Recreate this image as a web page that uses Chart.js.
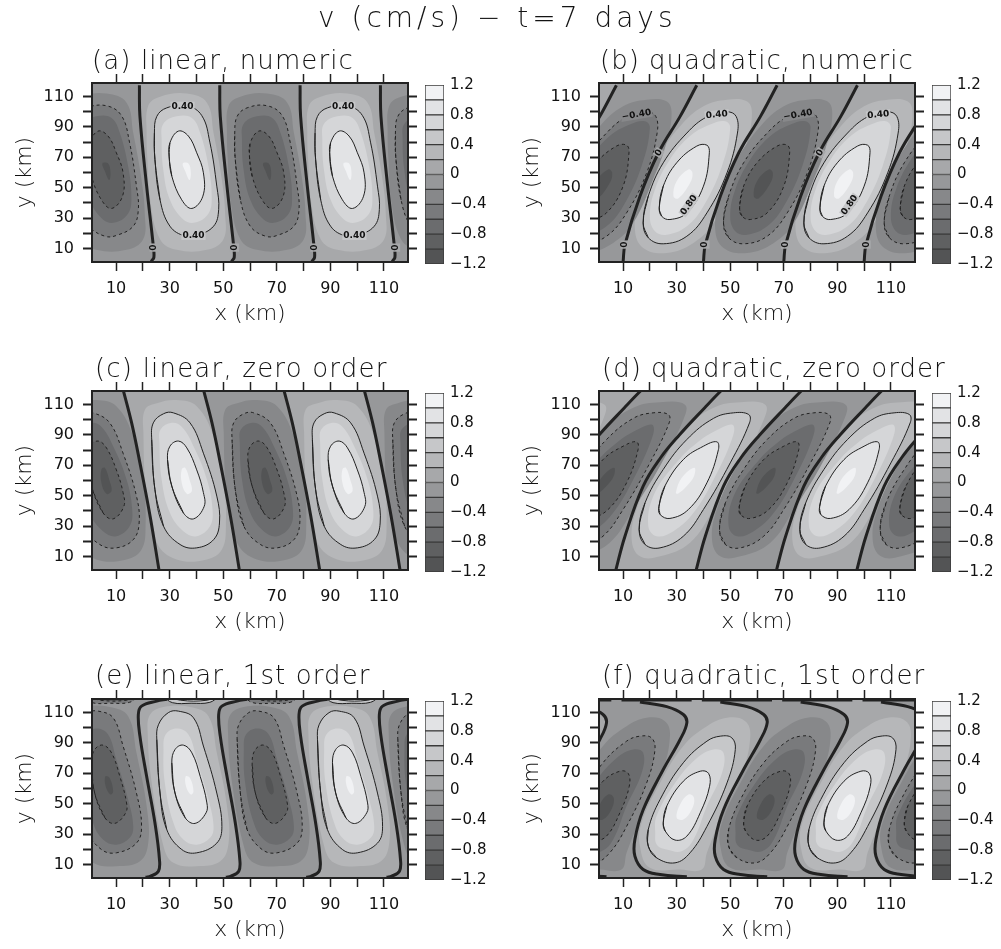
<!DOCTYPE html>
<html>
<head>
<meta charset="utf-8">
<script src="https://cdn.jsdelivr.net/npm/chart.js@4/dist/chart.umd.min.js"></script>
<style>
  body { margin: 0; background: #fff; }
  #page { position: relative; width: 1001px; height: 949px; overflow: hidden; }
  canvas { position: absolute; }
  .title { position: absolute; font-family: "DejaVu Sans", sans-serif; font-weight: 200; color: #111; line-height: 1; white-space: pre; opacity: 0.99; will-change: opacity; }
</style>
</head>
<body>
<div id="page"></div>
<script>
// tick values (km) and colour bar levels
const axisTicks = [10, 20, 30, 40, 50, 60, 70, 80, 90, 100, 110];
const axisLabels = [10, 30, 50, 70, 90, 110];
const levelEdges = [-1.2, -1, -0.8, -0.6, -0.4, -0.2, 0, 0.2, 0.4, 0.6, 0.8, 1, 1.2];
const levelLabels = [-1.2, -0.8, -0.4, 0, 0.4, 0.8, 1.2];
const bandColors = ['#535455', '#5f6061', '#6b6c6e', '#797a7c', '#87888a', '#97989a', '#a7a8aa', '#b6b7b9', '#c6c7c9', '#d5d6d8', '#e2e3e5', '#f1f2f4'];

// (a) linear, numeric: contours of one lobe at |v| = 0.2, 0.4, 0.6, 0.8, 1.0
const a_zero = [[22.8,-3],[23.2,1.5],[24.1,4],[23.9,11.4],[21.4,51],[18.9,97],[18.7,117.5]];
const a_r02 = [[21.7,68.6],[21.4,86],[22,104],[26.4,110],[36.4,112],[43.9,106],[46.4,86],[49.5,55],[50.7,33],[50.1,16],[43.9,9],[32.6,9],[26.4,16],[22.7,42]];
const a_r04 = [[24.5,68.6],[24.3,86],[25.2,97],[28.9,102.6],[36.4,104],[42,97.5],[45,80],[47.6,51],[48.3,35.6],[46.4,24.6],[40.1,18.5],[35.8,18],[30.1,24.6],[26.4,42]];
const a_r06 = [[27.6,62],[27,82],[27.6,92],[32.6,97],[38.3,96],[41.4,86],[44.5,64],[45.7,44],[44.5,33],[39.5,27],[35.1,29],[30.1,42]];
const a_r08 = [[29.8,70.8],[30.1,79.6],[33.3,87.3],[37,84],[40.1,73],[42.6,59.8],[42.4,44.4],[38.3,36.3],[34.5,42],[30.8,57.6]];
const a_r10 = [[34.9,66],[37,66],[37.9,60],[37.4,55],[35.8,61]];
const a_labels = [[34.8,103.7,'0.40',0],[94.8,103.7,'0.40',0],[38.9,18.5,'0.40',0],[99,18.5,'0.40',0],[24.2,10.5,'0',-90],[54.2,10.5,'0',-90],[84.2,10.5,'0',-90],[114.4,10.5,'0',-90]];

// (b) quadratic, numeric
const b_zero = [[10,1],[10.7,12.5],[16.3,44.4],[23.2,73],[31.3,97],[37.5,117.5]];
const b_r02 = [[14.4,22.4],[16.3,44.4],[22.5,68.6],[31.3,90.5],[40,103.7],[48.8,108],[56.2,107],[58.1,99.3],[56.2,79.6],[51.2,55.4],[43.8,26.8],[36.3,13.6],[26.3,7],[17.5,10.3]];
const b_r04 = [[17.5,26.8],[19.4,44.4],[25,66.4],[33.8,86],[41.3,96.7],[48.8,100],[52.2,97],[52.7,86],[48.8,59.8],[41.3,33.4],[33.8,18],[25,13],[19.4,17]];
const b_r06 = [[20,31],[21.9,48.8],[27.5,68.6],[35,84],[42.5,91.6],[48.1,93.8],[50,89.5],[46.9,64.2],[40,37.8],[33.8,24.6],[26.3,19],[21.9,21.3]];
const b_r08 = [[23.5,36.7],[25,51],[30,66.4],[37.5,77.4],[41.3,78],[42.2,73],[40,51],[33.8,33.4],[27.5,29],[24.4,31.2]];
const b_r10 = [[28.8,44.4],[30,54.3],[34.4,62],[35.9,59.8],[35,53],[30.6,42.9]];
const b_labels = [[15,98,'\u22120.40',-10],[75.3,98,'\u22120.40',-10],[45,98,'0.40',-5],[105.3,98,'0.40',-5],[34.6,38.5,'0.80',-55],[94.6,38.5,'0.80',-55],[10.7,12.5,'0',-90],[40.6,12.5,'0',-90],[70.6,12.5,'0',-90],[100.8,12.5,'0',-90],[23.3,73,'0',-60],[83.5,73,'0',-60]];

// (c) linear, zero order
const c_zero = [[26.2,-1],[22.7,36.5],[18.9,71.6],[15.8,98],[12.3,122]];
const c_r02 = [[21.4,49.7],[20.2,91.4],[20.8,106.8],[25.2,111],[32.6,113],[40.1,109],[46.4,89],[50.1,60.7],[51,30],[49.5,14.5],[43.9,8],[32.6,8],[25.2,19]];
const c_r04 = [[24.5,54],[23.3,87],[23.9,98],[27.7,104],[31.4,104.6],[37.6,98],[42.6,78],[47.6,49.7],[48.6,32],[46.4,21],[40.1,15.6],[33.9,17.8],[27.7,29.9]];
const c_r06 = [[27,60.7],[26.2,84.8],[26.6,93.6],[30.8,98],[34.5,95.4],[38.9,82.6],[43.9,60.7],[46,41],[45.1,30],[40.1,23.3],[35.1,26.6],[30.1,38.7]];
const c_r08 = [[30.8,56.3],[29.2,73.8],[30.1,82.6],[33.3,86],[36.4,81.5],[40.1,67],[42.6,52],[42.9,43],[38.9,34.7],[35.1,38.7]];
const c_r10 = [[34.5,67.3],[35.8,68.4],[37.4,60.7],[38.3,53],[36.4,51.2],[34.5,58.5]];

// (d) quadratic, zero order
const d_zero = [[7,-1],[10.7,23.3],[17.5,56.3],[24,75],[31,90],[40.5,108],[46.5,119],[48.5,122]];
const d_r02 = [[13.2,21],[15,40.9],[22.5,69.5],[32.5,93.6],[43.8,108],[53.8,111.6],[63.1,110],[62.5,100],[53.8,69.5],[43.8,40.9],[35,19],[23.8,10],[16.3,10]];
const d_r04 = [[16,27.7],[18.2,45.3],[25,67.3],[33.8,87],[43.8,101],[51.2,104.6],[56.9,103.5],[57.2,98],[50,71.6],[40,40.9],[32.5,23.3],[23.8,15.6],[18.2,17.8]];
const d_r06 = [[19.4,30],[21.3,49.7],[28.8,69.5],[37.5,84.8],[47.5,95.4],[51.2,96.3],[50.6,87],[43.8,60.7],[36.3,38.7],[28.8,26.6],[22.5,23.3]];
const d_r08 = [[23.4,43],[25.6,56.3],[32.5,73.8],[40,82.6],[45,85.5],[45.6,80.4],[41.3,58.5],[34.4,40.9],[27.5,35],[23.8,37.6]];
const d_r10 = [[29.7,51.9],[31.9,61.8],[36.6,68.4],[36.5,62.9],[33.8,56.3],[30.6,51.4]];

// (e) linear, 1st order
const e_zero = [[21,1.5],[22.9,2.2],[25.8,5.5],[26.2,13],[24.5,37.4],[21.4,68],[18.9,94.5],[18.3,108.8],[19.5,114.3],[25.2,117.6],[29,118.8]];
const e_r02 = [[23.3,63.7],[21.8,96.7],[22.7,108.8],[27.7,113.8],[37.6,113.8],[44.5,107.7],[47.6,83.5],[51.4,48.4],[52,24],[48.9,12],[40.1,8.8],[31.4,11],[27.7,22]];
const e_r04 = [[26.4,57],[25.2,92.3],[25.8,102],[29.5,110],[33.3,111],[38.9,106.6],[42.6,88],[47.6,57],[49.5,35],[47.6,24],[40.1,17.6],[34.5,19.8],[28.9,33]];
const e_r06 = [[28.2,63.7],[27.7,85.7],[28.5,95.6],[32.6,99.6],[37,95.6],[40.1,79],[44.5,52.7],[46.4,35],[45.1,27.5],[40.1,23],[35.1,26.4],[31.4,37.4]];
const e_r08 = [[32,57],[30.8,77],[32,85.7],[35.1,88.6],[38.3,83.5],[41.4,68],[43.9,50.5],[43.6,44],[39.5,37],[35.8,40.7]];
const e_r10 = [[36,68],[37.6,67],[38.9,58.2],[37.9,56],[36.1,61.5]];
const e_cap04 = [[27.5,121],[31,116.6],[38,116.2],[45,116.8],[48.5,121]];
const e_cap08 = [[30,121],[34,118.2],[44,118.2],[47,121]];

// (f) quadratic, 1st order
const f_zero = [[33.8,1.8],[23.8,3.3],[17.5,6.6],[14.4,15.4],[14.4,26.4],[17.5,46],[25,72.5],[31.3,92.3],[33.8,103.3],[32.5,108.8],[26.3,114],[16.3,117]];
const f_r02 = [[16.3,22],[16.9,37.4],[23.8,63.7],[32.5,88],[41.3,101],[48.8,106.6],[55.6,104.4],[57.5,94.5],[54.4,70],[46.3,39.6],[41.3,17.6],[39.4,6.6],[31.3,6.6],[20,7.7]];
const f_r04 = [[19.4,22],[19.4,33],[23.8,52.7],[32.5,77],[41.3,91.2],[46.3,94.5],[50.6,93.4],[51.9,85.7],[48.8,63.7],[41.3,35],[35,17.6],[29.4,11],[22.5,14.3]];
const f_r06 = [[22,30.8],[22.5,41.8],[29.4,63.7],[37.5,80],[43.8,85.7],[47.5,83.5],[46.9,70],[41.3,48.4],[36.3,26.4],[31.9,18.7],[26.3,19.8],[22.6,23]];
const f_r08 = [[25,37.4],[26.3,48.4],[32.5,64.8],[38.8,71.4],[41.9,70],[42.3,61.5],[38.8,44],[33.8,28.6],[29.4,26],[25.7,32]];
const f_r10 = [[30,40.7],[31.3,49.5],[34.4,56],[36.5,53.8],[35.6,46],[32.5,39.6]];
const f_topDash = [[9.4,118.4],[35.6,118.4]];

// lobe and zero line repeats along x (km)
const shiftsStraight = { zero: [0, 30, 60, 90], pos: [0, 60], neg: [-30, 30, 90] };
const shiftsSlanted = { zero: [-30, 0, 30, 60, 90], pos: [-60, 0, 60], neg: [-30, 30, 90] };

const panels = [
  { title: '(a) linear, numeric', left: 0, top: 83, titleX: 92, titleTop: 47, spacing: 1.1, zero: a_zero, rings: [a_r02, a_r04, a_r06, a_r08, a_r10], shifts: shiftsStraight, labels: a_labels },
  { title: '(b) quadratic, numeric', left: 507, top: 83, titleX: 600, titleTop: 47, spacing: 1, zero: b_zero, rings: [b_r02, b_r04, b_r06, b_r08, b_r10], shifts: shiftsSlanted, labels: b_labels },
  { title: '(c) linear, zero order', left: 0, top: 391, titleX: 95, titleTop: 355, spacing: 1.2, zero: c_zero, rings: [c_r02, c_r04, c_r06, c_r08, c_r10], shifts: shiftsStraight },
  { title: '(d) quadratic, zero order', left: 507, top: 391, titleX: 602, titleTop: 355, spacing: 1, zero: d_zero, rings: [d_r02, d_r04, d_r06, d_r08, d_r10], shifts: shiftsSlanted },
  { title: '(e) linear, 1st order', left: 0, top: 699, titleX: 95, titleTop: 662, spacing: 1.1, zero: e_zero, rings: [e_r02, e_r04, e_r06, e_r08, e_r10], shifts: shiftsStraight, caps: [[e_cap04, 1], [e_cap08, 3]] },
  { title: '(f) quadratic, 1st order', left: 507, top: 699, titleX: 602, titleTop: 662, spacing: 1.15, zero: f_zero, rings: [f_r02, f_r04, f_r06, f_r08, f_r10], shifts: shiftsSlanted, edge: f_topDash }
];

const page = document.getElementById('page');
const ink = '#222';
const textInk = '#111';
const fontFamily = '"DejaVu Sans", sans-serif';

function addTitle(text, x, top, size, spacing) {
  const el = document.createElement('div');
  el.className = 'title';
  el.textContent = text;
  el.style.left = x + 'px';
  el.style.top = top + 'px';
  el.style.fontSize = size + 'px';
  el.style.letterSpacing = spacing + 'px';
  page.appendChild(el);
}

function addCanvas(left, top, width, height) {
  const cv = document.createElement('canvas');
  cv.width = width;
  cv.height = height;
  cv.style.left = left + 'px';
  cv.style.top = top + 'px';
  page.appendChild(cv);
  return cv;
}

const toPoints = (ring, dx) => ring.map(([x, y]) => ({ x: x + dx, y }));
// wrap one point past each end so the spline has no kink at the seam
const closed = (pts) => [pts[pts.length - 1], ...pts, pts[0], pts[1]];

function shape(points, color, line) {
  return {
    data: points,
    showLine: true,
    pointRadius: 0,
    tension: 0.4,
    capBezierPoints: false,
    fill: color ? 'shape' : false,
    backgroundColor: color || 'transparent',
    borderColor: line ? ink : 'transparent',
    borderWidth: line ? line.width : 0,
    borderDash: line && line.dash ? line.dash : []
  };
}

function panelDatasets(p) {
  const sets = [];
  // positive side of the zero lines
  p.shifts.pos.forEach(dx => {
    const a = toPoints(p.zero, dx);
    const b = toPoints(p.zero, dx + 30).reverse();
    const band = [{ x: a[0].x, y: -10 }, ...a, { x: a[a.length - 1].x, y: 130 },
      { x: b[0].x, y: 130 }, ...b, { x: b[b.length - 1].x, y: -10 }, { x: a[0].x, y: -10 }];
    sets.push(shape(band, bandColors[6]));
  });
  // filled lobes, lines only at 0.4 and 0.8
  p.rings.forEach((ring, i) => {
    const contour = i === 1 || i === 3;
    p.shifts.pos.forEach(dx => sets.push(shape(closed(toPoints(ring, dx)), bandColors[7 + i], contour ? { width: 1 } : null)));
    p.shifts.neg.forEach(dx => sets.push(shape(closed(toPoints(ring, dx)), bandColors[4 - i], contour ? { width: 1, dash: [3, 3] } : null)));
  });
  (p.caps || []).forEach(([ring, i]) => {
    p.shifts.pos.forEach(dx => sets.push(shape(toPoints(ring, dx), bandColors[7 + i], { width: 1 })));
    p.shifts.neg.forEach(dx => sets.push(shape(toPoints(ring, dx), bandColors[4 - i], { width: 1, dash: [3, 3] })));
  });
  // thick zero contour
  p.shifts.zero.forEach(dx => sets.push(shape(toPoints(p.zero, dx), null, { width: 3 })));
  if (p.edge) p.shifts.zero.forEach(dx => sets.push(shape(toPoints(p.edge, dx), null, { width: 3 })));
  return sets.reverse(); // first dataset is painted last
}

const backgroundPlugin = {
  id: 'panelBackground',
  beforeDatasetsDraw(chart) {
    const { ctx, chartArea: c } = chart;
    ctx.save();
    ctx.fillStyle = bandColors[5];
    ctx.fillRect(c.left, c.top, c.right - c.left, c.bottom - c.top);
    ctx.restore();
  }
};

const labelPlugin = {
  id: 'contourLabels',
  afterDatasetsDraw(chart, args, opts) {
    const { ctx, scales } = chart;
    (opts.items || []).forEach(([x, y, text, rot]) => {
      ctx.save();
      ctx.translate(scales.x.getPixelForValue(x), scales.y.getPixelForValue(y));
      ctx.rotate(rot * Math.PI / 180);
      ctx.font = 'bold 9px ' + fontFamily;
      const w = ctx.measureText(text).width + 2;
      ctx.fillStyle = text.startsWith('\u2212') ? bandColors[4] : text === '0' ? bandColors[6] : bandColors[8];
      ctx.fillRect(-w / 2, -4.5, w, 9);
      ctx.fillStyle = '#111';
      ctx.textAlign = 'center';
      ctx.textBaseline = 'middle';
      ctx.fillText(text, 0, 0);
      ctx.restore();
    });
  }
};

function axis(position, size, showLabels, titleText) {
  const horizontal = position === 'top' || position === 'bottom';
  return {
    type: 'linear',
    position,
    min: 1,
    max: 119,
    afterBuildTicks: s => { s.ticks = axisTicks.map(v => ({ value: v })); },
    afterFit: s => {
      if (horizontal) s.height = size; else s.width = size;
      s.paddingTop = s.paddingBottom = s.paddingLeft = s.paddingRight = 0;
    },
    grid: { drawOnChartArea: false, drawTicks: true, tickLength: 9, tickWidth: horizontal ? 1.5 : 2, tickColor: ink, z: 1 },
    border: { display: true, color: ink, width: 2, z: 1 },
    ticks: {
      display: showLabels,
      autoSkip: false,
      maxRotation: 0,
      padding: horizontal ? 8 : 9,
      color: textInk,
      font: { family: fontFamily, size: 16 },
      callback: v => axisLabels.includes(v) ? String(v) : ''
    },
    title: titleText ? { display: true, text: titleText, color: textInk, padding: { top: 12, bottom: 0 }, font: { family: fontFamily, size: 22, weight: 200 } } : { display: false }
  };
}

function drawPanel(p) {
  const cv = addCanvas(p.left, p.top - 14, 420, 14 + 179 + 65);
  new Chart(cv, {
    type: 'scatter',
    data: { datasets: panelDatasets(p) },
    plugins: [backgroundPlugin, labelPlugin],
    options: {
      responsive: false,
      animation: false,
      layout: { padding: 0 },
      plugins: { legend: { display: false }, tooltip: { enabled: false }, contourLabels: { items: p.labels || [] } },
      scales: {
        x: axis('bottom', 65, true, 'x (km)'),
        y: axis('left', 92, true, 'y (km)'),
        xTop: axis('top', 14, false),
        yRight: axis('right', 12, false)
      }
    }
  });

  // colour bar
  const bar = addCanvas(p.left + 425, p.top - 8, 70, 199);
  new Chart(bar, {
    type: 'bar',
    data: {
      labels: ['v'],
      datasets: bandColors.map((c, i) => ({
        data: [[levelEdges[i], levelEdges[i + 1]]],
        backgroundColor: c,
        borderColor: '#3a3a3a',
        borderWidth: 1,
        borderSkipped: false,
        barPercentage: 1,
        categoryPercentage: 1
      }))
    },
    options: {
      responsive: false,
      animation: false,
      layout: { padding: { top: 10, bottom: 10 } },
      plugins: { legend: { display: false }, tooltip: { enabled: false } },
      scales: {
        x: { display: false, stacked: true },
        y: {
          position: 'right',
          min: -1.2,
          max: 1.2,
          afterBuildTicks: s => { s.ticks = levelLabels.map(v => ({ value: v })); },
          afterFit: s => { s.width = 51; s.paddingTop = 0; s.paddingBottom = 0; },
          grid: { display: false, drawTicks: false },
          border: { display: false },
          ticks: {
            padding: 6,
            color: textInk,
            font: { family: fontFamily, size: 15 },
            callback: v => v === 0 ? '0' : (v < 0 ? '\u2212' : '') + Math.abs(v).toFixed(1)
          }
        }
      }
    }
  });
}

addTitle('v (cm/s) \u2212 t=7 days', 318, 4, 28, 4);
panels.forEach(p => {
  addTitle(p.title, p.titleX, p.titleTop, 26, p.spacing);
  drawPanel(p);
});
</script>
</body>
</html>
